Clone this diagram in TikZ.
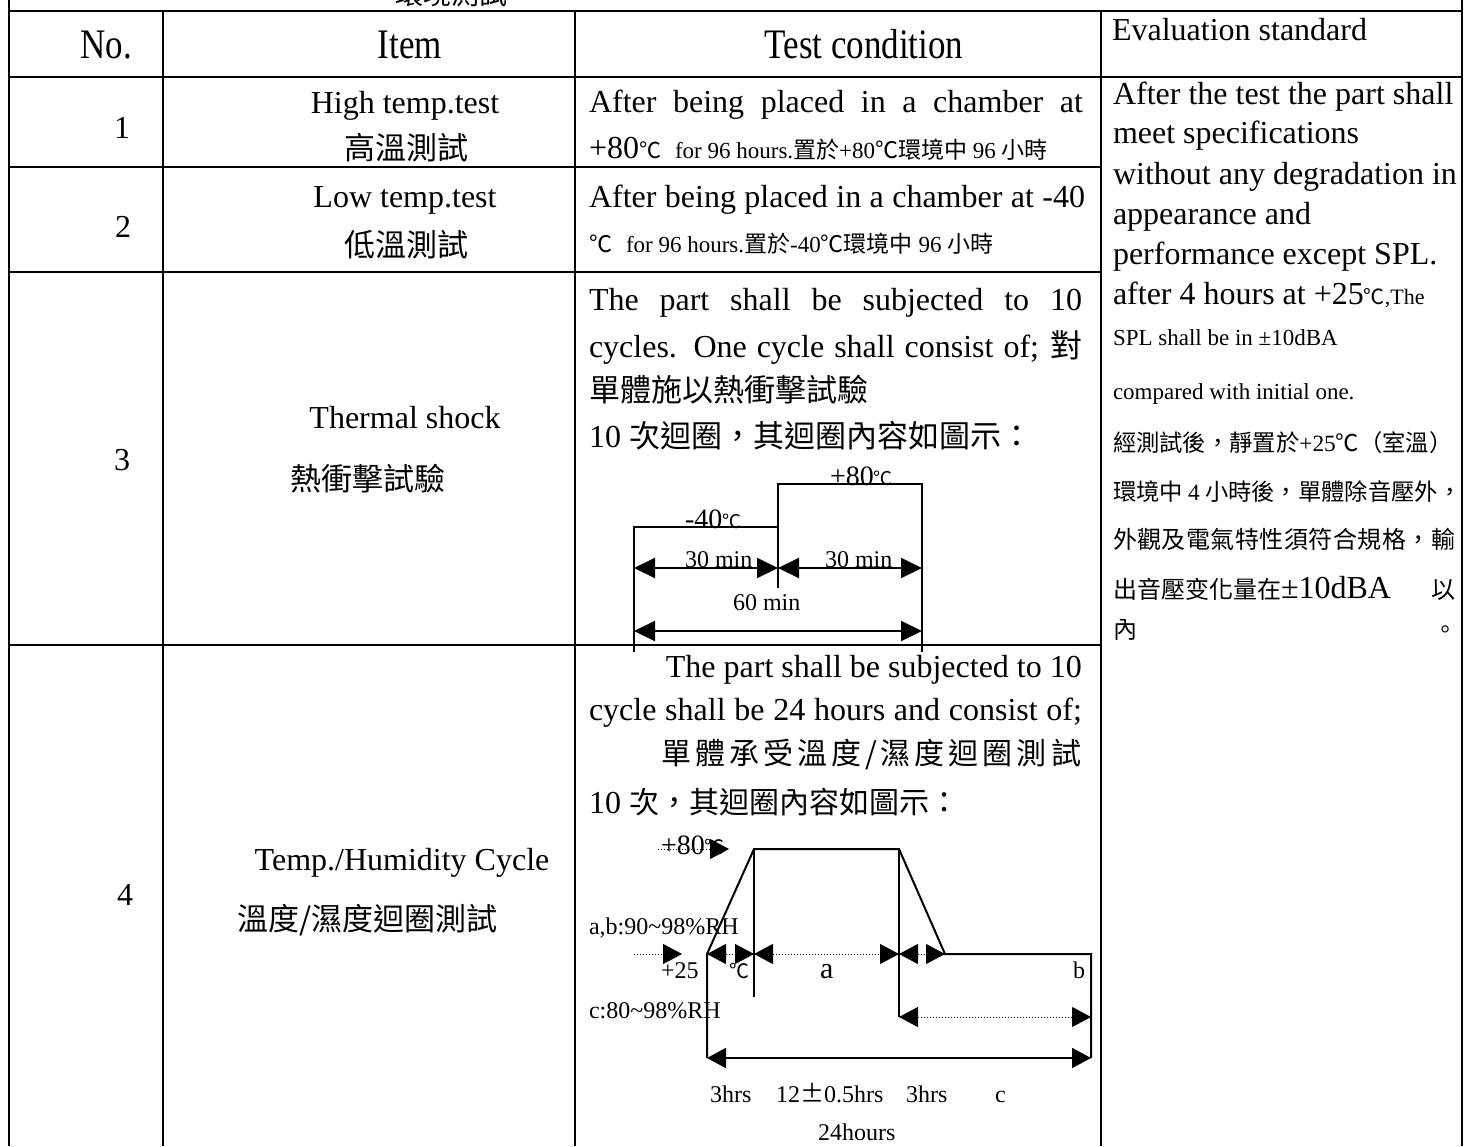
\documentclass[tikz,border=0pt]{standalone}
\usepackage{fontspec}
\usepackage{graphicx}
\setmainfont{Liberation Serif}
\newfontfamily\cjk{Noto Sans CJK TC}
\usetikzlibrary{arrows.meta}
\newcommand\fs[1]{\fontsize{#1}{#1}\selectfont}
\newcommand\zh[1]{{\cjk #1}}
\newcommand\hs{\hfill}
\begin{document}
\begin{tikzpicture}[x=1pt,y=-1pt,
  tx/.style={inner sep=0pt,outer sep=0pt,anchor=base west,font=\fs{32}},
  tc/.style={inner sep=0pt,outer sep=0pt,anchor=base,font=\fs{32}},
  vline/.style={line width=2pt},
  hline/.style={line width=2.6pt},
  dg/.style={line width=2pt},
  dt/.style={line width=1pt,dotted},
  ar/.style={-{Triangle[length=19pt,width=20pt]}},
  arr/.style={{Triangle[length=19pt,width=20pt]}-{Triangle[length=19pt,width=20pt]}},
  arrb/.style={{Triangle[length=21pt,width=20pt]}-{Triangle[length=21pt,width=20pt]}},
]
\fill[white] (0,0) rectangle (1464,1146);
\useasboundingbox (0,0) rectangle (1464,1146);

% top cut-off title fragment
\begin{scope}
\clip (0,0) rectangle (1464,10);
\node[tx,font=\fs{28}\cjk] (frag) at (395,4) {環境測試};
\end{scope}

% table grid
\draw[hline] (9,11) -- (1462,11);
\draw[hline] (9,77) -- (1462,77);
\draw[hline] (9,167) -- (1101,167);
\draw[hline] (9,272) -- (1101,272);
\draw[hline] (9,645) -- (1101,645);
\draw[vline] (9,0) -- (9,1146);
\draw[vline] (163,11) -- (163,1146);
\draw[vline] (575,11) -- (575,1146);
\draw[vline] (1101,11) -- (1101,1146);
\draw[vline] (1462,0) -- (1462,1146);

% header
\node[tc,font=\fs{35}] (hno) at (106,58) {\scalebox{1}[1.2]{No.}};
\node[tc,font=\fs{35}] (hitem) at (410,58) {\scalebox{1}[1.2]{Item}};
\node[tc,font=\fs{35}] (htc) at (864,58) {\scalebox{1}[1.2]{Test condition}};
\node[tx] (hev) at (1112,40) {Evaluation standard};

% numbers
\node[tc] (n1) at (122,138) {1};
\node[tc] (n2) at (123,237) {2};
\node[tc] (n3) at (122,470) {3};
\node[tc] (n4) at (125,905) {4};

% items
\node[tc] (i1a) at (405,113) {High temp.test};
\node[tc,font=\fs{31}\cjk] (i1b) at (406,159) {高溫測試};
\node[tc] (i2a) at (405,207) {Low temp.test};
\node[tc,font=\fs{31}\cjk] (i2b) at (406,256) {低溫測試};
\node[tc] (i3a) at (405,428) {Thermal shock};
\node[tx,font=\fs{31}\cjk] (i3b) at (290,490) {熱衝擊試驗};
\node[tc] (i4a) at (402,870) {Temp./Humidity Cycle};
\node[tx,font=\fs{31}\cjk] (i4b) at (237,930) {溫度/濕度迴圈測試};

% test conditions rows 1-2
\node[tx] (c1a) at (589,112) {\makebox[494pt][s]{After being placed in a chamber at}};
\node[tx] (c1b) at (589,158) {+80\zh{\fs{22}℃}{\fs{23}\hspace{14pt}for 96 hours.\zh{置於}+80\zh{℃環境中} 96 \zh{小時}}};
\node[tx] (c2a) at (589,207) {\makebox[496pt][s]{After being placed in a chamber at -40}};
\node[tx,font=\fs{23}] (c2b) at (589,252) {\zh{℃}\hspace{14pt}for 96 hours.\zh{置於}-40\zh{℃環境中} 96 \zh{小時}};

% row 3
\node[tx] (c3a) at (589,310) {\makebox[493pt][s]{The part shall be subjected to 10}};
\node[tx] (c3b) at (589,357) {\makebox[493pt][s]{cycles. One cycle shall consist of; \zh{對}}};
\node[tx,font=\fs{31}\cjk] (c3c) at (589,401) {單體施以熱衝擊試驗};
\node[tx] (c3d) at (589,447) {10 \zh{\fs{31}次迴圈，其迴圈內容如圖示：}};

% thermal shock diagram
\draw[dg] (634,652) -- (634,527) -- (778,527) -- (778,484) -- (922,484) -- (922,652);
\draw[dg] (778,527) -- (778,588);
\draw[dg,arrb] (634,568) -- (778,568);
\draw[dg,arrb] (778,568) -- (922,568);
\draw[dg,arrb] (634,631) -- (922,631);
\node[tx,font=\fs{28}] (l80) at (830,485) {+80\zh{\fs{19}℃}};
\node[tx,font=\fs{28}] (l40) at (685,528) {-40\zh{\fs{19}℃}};
\node[tx,font=\fs{24}] (l30a) at (685,567) {30 min};
\node[tx,font=\fs{24}] (l30b) at (825,567) {30 min};
\node[tx,font=\fs{24}] (l60) at (733,610) {60 min};

% row 4
\node[inner sep=0pt,anchor=base east,font=\fs{32}] (c4a) at (1082,677) {The part shall be subjected to 10};
\node[tx] (c4b) at (589,720) {\makebox[493pt][s]{cycle shall be 24 hours and consist of;}};
\node[tx,font=\fs{30}\cjk] (c4c) at (661,764) {\makebox[420pt][l]{單\hs 體\hs 承\hs 受\hs 溫\hs 度\hs /\hs 濕\hs 度\hs 迴\hs 圈\hs 測\hs 試}};
\node[tx] (c4d) at (589,813) {10 \zh{\fs{30}次，其迴圈內容如圖示：}};

% temp/humidity diagram
\draw[dg] (707,1058) -- (707,954) -- (754,849) -- (899,849) -- (945,954) -- (1091,954) -- (1091,1058);
\draw[dg] (754,849) -- (754,997);
\draw[dg] (899,849) -- (899,1017);
\draw[dt,ar] (658,849) -- (729,849);
\draw[dt,ar] (634,954) -- (682,954);
\draw[dt,arr] (707,954) -- (754,954);
\draw[dt,arr] (754,954) -- (899,954);
\draw[dt,arr] (899,954) -- (945,954);
\draw[dt,arr] (899,1017) -- (1091,1017);
\draw[dg,arr] (707,1058) -- (1091,1058);
\node[tx,font=\fs{28}] (m80) at (661,854) {+80\zh{\fs{20}℃}};
\node[tx,font=\fs{24}] (mab) at (589,934) {a,b:90\textasciitilde 98\%RH};
\node[tx,font=\fs{24}] (m25) at (661,978) {+25};
\node[tx,font=\fs{20}\cjk] (m25c) at (729,978) {℃};
\node[tx,font=\fs{30}] (ma) at (820,978) {a};
\node[tx,font=\fs{24}] (mb) at (1073,978) {b};
\node[tx,font=\fs{24}] (mc) at (589,1018) {c:80\textasciitilde 98\%RH};
\node[tx,font=\fs{24}] (h1) at (710,1102) {3hrs};
\node[tx,font=\fs{24}] (h2) at (776,1102) {12\zh{±}0.5hrs};
\node[tx,font=\fs{24}] (h3) at (906,1102) {3hrs};
\node[tx,font=\fs{24}] (h4) at (995,1102) {c};
\node[tx,font=\fs{24}] (h5) at (818,1140) {24hours};

% evaluation standard
\node[tx] (e1) at (1113,104) {After the test the part shall};
\node[tx] (e2) at (1113,143) {meet specifications};
\node[tx] (e3) at (1113,184) {without any degradation in};
\node[tx] (e4) at (1113,224) {appearance and};
\node[tx] (e5) at (1113,264) {performance except SPL.};
\node[tx] (e6) at (1113,304) {after 4 hours at +25\zh{\fs{21}℃}{\fs{22},The}};
\node[tx,font=\fs{23}] (e7) at (1113,345) {SPL shall be in ±10dBA};
\node[tx,font=\fs{23}] (e8) at (1113,399) {compared with initial one.};
\node[tx,font=\fs{23.3}\cjk] (e9) at (1113,451) {經測試後，靜置於{\rmfamily +25}℃（室溫）};
\node[tx,font=\fs{23.3}\cjk] (e10) at (1113,500) {環境中 {\rmfamily 4} 小時後，單體除音壓外，};
\node[tx,font=\fs{24}\cjk] (e11) at (1113,548) {\makebox[342pt][l]{外\hs 觀\hs 及\hs 電\hs 氣\hs 特\hs 性\hs 須\hs 符\hs 合\hs 規\hs 格\hs ，\hs 輸}};
\node[tx,font=\fs{24}\cjk] (e12) at (1113,598) {\makebox[342pt][l]{出音壓变化量在{\rmfamily\fs{32}±10dBA}\hfill 以}};
\node[tx,font=\fs{24}\cjk] (e13) at (1113,638) {內};
\node[tx,font=\fs{24}\cjk] (e14) at (1433,638) {。};
\end{tikzpicture}
\end{document}
